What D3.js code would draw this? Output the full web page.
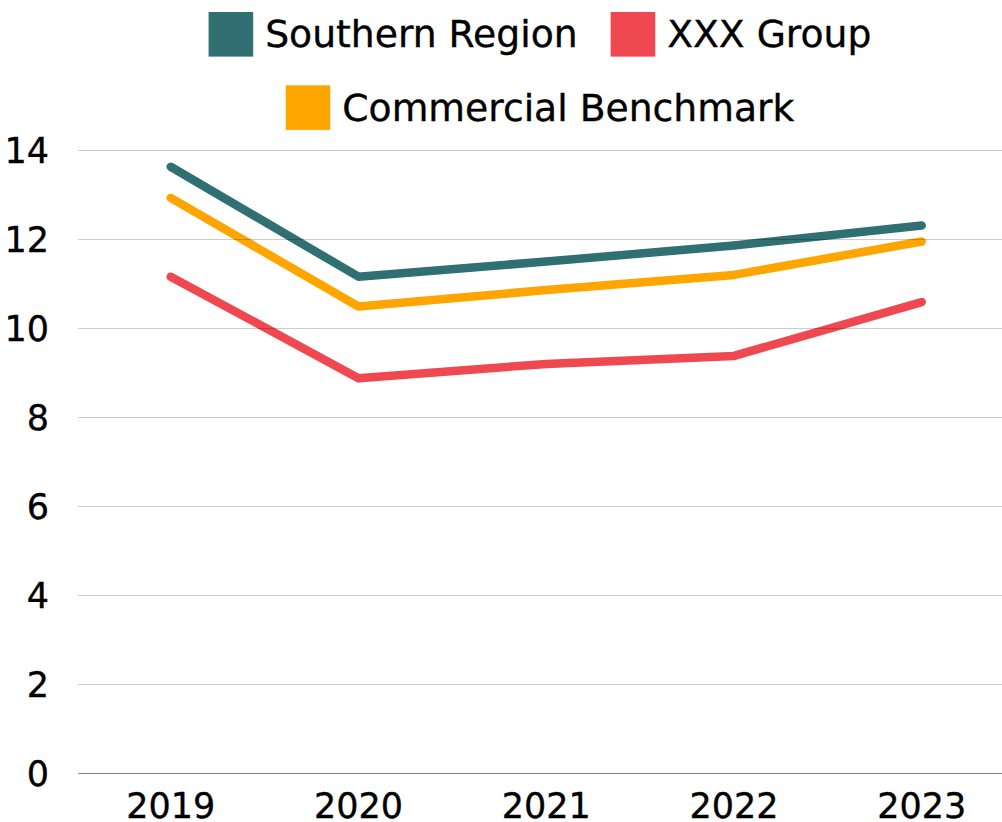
<!DOCTYPE html>
<html>
<head>
<meta charset="utf-8">
<script src="https://cdn.jsdelivr.net/npm/d3@7"></script>
<style>
  html, body { margin: 0; padding: 0; background: #fff; }
  svg { display: block; font-family: "DejaVu Sans", sans-serif; }
  svg text { stroke: #000; stroke-width: 0.35px; }
</style>
</head>
<body>
<div class="chart"></div>
<script>
const years = ['2019', '2020', '2021', '2022', '2023'];
const seriesNames = ['Southern Region', 'XXX Group', 'Commercial Benchmark'];
const southernRegion = [13.63, 11.16, 11.5, 11.86, 12.31];
const xxxGroup = [11.16, 8.88, 9.2, 9.38, 10.59];
const commercialBenchmark = [12.93, 10.49, 10.86, 11.2, 11.95];
const yTicks = [0, 2, 4, 6, 8, 10, 12, 14];
const colors = ['#306f72', '#f04850', '#ffa500'];

const width = 1002;
const height = 822;
const margin = { top: 150.3, bottom: 48.7, left: 78.3, right: 0 };

const series = [
    { name: seriesNames[0], values: southernRegion, color: colors[0] },
    { name: seriesNames[1], values: xxxGroup, color: colors[1] },
    { name: seriesNames[2], values: commercialBenchmark, color: colors[2] },
];

const xScale = d3.scalePoint()
    .domain(years)
    .range([170.7, 921.7]);

const yScale = d3.scaleLinear()
    .domain([0, 14])
    .range([height - margin.bottom, margin.top]);

const svg = d3.select('.chart')
    .append('svg')
    .attr('width', width)
    .attr('height', height);

// lines
const line = d3.line()
    .x((d, i) => xScale(years[i]))
    .y(d => yScale(d));

// draw in order so the teal is on top like the original
[series[1], series[2], series[0]].forEach(s => {
    svg.append('path')
        .datum(s.values)
        .attr('d', line)
        .attr('fill', 'none')
        .attr('stroke', s.color)
        .attr('stroke-width', 8.5)
        .attr('stroke-linecap', 'round')
        .attr('stroke-linejoin', 'round');
});

// gridlines sit above the lines
svg.append('g')
    .selectAll('line')
    .data(yTicks)
    .enter()
    .append('line')
    .attr('x1', margin.left)
    .attr('x2', width - margin.right)
    .attr('y1', d => Math.round(yScale(d)) + 0.5)
    .attr('y2', d => Math.round(yScale(d)) + 0.5)
    .attr('stroke', '#000')
    .attr('stroke-opacity', d => d === 0 ? 0.5 : 0.2)
    .attr('stroke-width', 1);

// y tick labels
svg.append('g')
    .selectAll('text')
    .data(yTicks)
    .enter()
    .append('text')
    .attr('x', 49)
    .attr('y', d => yScale(d))
    .attr('dy', '0.35em')
    .attr('text-anchor', 'end')
    .attr('font-size', 35)
    .attr('fill', '#000')
    .text(d => d);

// x tick labels
svg.append('g')
    .selectAll('text')
    .data(years)
    .enter()
    .append('text')
    .attr('x', d => xScale(d))
    .attr('y', 818)
    .attr('text-anchor', 'middle')
    .attr('font-size', 35)
    .attr('fill', '#000')
    .text(d => d);

// legend
const legendRows = [
    { y: 12, items: [series[0], series[1]] },
    { y: 85.3, items: [series[2]] },
];
const box = 44.6;
const centerX = 540;

legendRows.forEach(row => {
    const g = svg.append('g');
    let x = 0;
    row.items.forEach((s, i) => {
        if (i > 0) x += 33;
        g.append('rect')
            .attr('x', x)
            .attr('y', row.y)
            .attr('width', box)
            .attr('height', box)
            .attr('fill', s.color);
        const t = g.append('text')
            .attr('x', x + box + 12)
            .attr('y', row.y + box / 2)
            .attr('dy', '0.35em')
            .attr('font-size', 37.7)
            .attr('fill', '#000')
            .text(s.name);
        x += box + 12 + t.node().getComputedTextLength();
    });
    g.attr('transform', `translate(${centerX - x / 2},0)`);
});
</script>
</body>
</html>
